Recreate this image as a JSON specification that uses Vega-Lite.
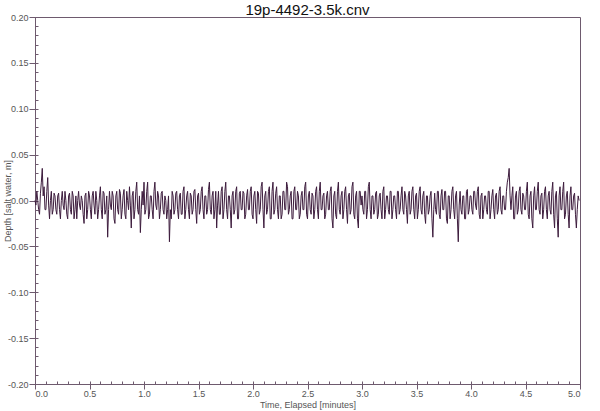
{
  "$schema": "https://vega.github.io/schema/vega-lite/v6.json",
  "autosize": "none",
  "width": 545,
  "height": 367,
  "padding": {"left": 35, "top": 17, "right": 20, "bottom": 27},
  "background": "white",
  "title": {
    "text": "19p-4492-3.5k.cnv",
    "font": "Liberation Sans",
    "fontSize": 15,
    "fontWeight": "normal",
    "color": "#111111",
    "offset": 2,
    "dy": 7
  },
  "config": {
    "view": {"stroke": "#6e5a6e", "strokeWidth": 1},
    "axis": {
      "domain": false,
      "grid": false,
      "labelFont": "Liberation Sans",
      "labelFontSize": 9,
      "labelColor": "#555555",
      "titleFont": "Liberation Sans",
      "titleFontSize": 9,
      "titleFontWeight": "normal",
      "titleColor": "#555555",
      "tickColor": "#6e5a6e",
      "offset": -3,
      "labelOverlap": false
    }
  },
  "data": {
    "values": [
      {"t":0,"d":0},{"t":0.0083,"d":-0.005},{"t":0.0167,"d":0.01},{"t":0.025,"d":0},{"t":0.0333,"d":-0.01},{"t":0.0417,"d":-0.015},{"t":0.05,"d":0.008},{"t":0.0583,"d":0.02},{"t":0.0667,"d":0.035},{"t":0.075,"d":0.005},{"t":0.0833,"d":0.015},{"t":0.0917,"d":-0.01},
      {"t":0.1,"d":-0.01},{"t":0.1083,"d":0.01},{"t":0.1167,"d":0.025},{"t":0.125,"d":-0.005},{"t":0.1333,"d":-0.02},{"t":0.1417,"d":0},{"t":0.15,"d":0.01},{"t":0.1583,"d":-0.015},{"t":0.1667,"d":-0.01},{"t":0.175,"d":0.008},{"t":0.1833,"d":0.005},{"t":0.1917,"d":-0.01},
      {"t":0.2,"d":-0.015},{"t":0.2083,"d":0.005},{"t":0.2167,"d":0.008},{"t":0.225,"d":-0.01},{"t":0.2333,"d":-0.02},{"t":0.2417,"d":0},{"t":0.25,"d":0.01},{"t":0.2583,"d":-0.005},{"t":0.2667,"d":-0.01},{"t":0.275,"d":0.01},{"t":0.2833,"d":0},{"t":0.2917,"d":-0.015},
      {"t":0.3,"d":-0.02},{"t":0.3083,"d":0.005},{"t":0.3167,"d":0.008},{"t":0.325,"d":-0.01},{"t":0.3333,"d":-0.015},{"t":0.3417,"d":0.01},{"t":0.35,"d":0.005},{"t":0.3583,"d":-0.02},{"t":0.3667,"d":-0.01},{"t":0.375,"d":0.005},{"t":0.3833,"d":-0.02},{"t":0.3917,"d":0},
      {"t":0.4,"d":0.01},{"t":0.4083,"d":-0.005},{"t":0.4167,"d":-0.01},{"t":0.425,"d":0.005},{"t":0.4333,"d":0},{"t":0.4417,"d":-0.015},{"t":0.45,"d":-0.025},{"t":0.4583,"d":0.005},{"t":0.4667,"d":0.008},{"t":0.475,"d":-0.02},{"t":0.4833,"d":-0.01},{"t":0.4917,"d":0.01},
      {"t":0.5,"d":0.005},{"t":0.5083,"d":-0.01},{"t":0.5167,"d":-0.02},{"t":0.525,"d":0.005},{"t":0.5333,"d":0.01},{"t":0.5417,"d":-0.005},{"t":0.55,"d":-0.015},{"t":0.5583,"d":0.01},{"t":0.5667,"d":0},{"t":0.575,"d":-0.02},{"t":0.5833,"d":-0.01},{"t":0.5917,"d":0.005},
      {"t":0.6,"d":0.015},{"t":0.6083,"d":-0.01},{"t":0.6167,"d":-0.02},{"t":0.625,"d":0.01},{"t":0.6333,"d":0.008},{"t":0.6417,"d":-0.015},{"t":0.65,"d":-0.01},{"t":0.6583,"d":0.005},{"t":0.6667,"d":-0.04},{"t":0.675,"d":-0.01},{"t":0.6833,"d":0.01},{"t":0.6917,"d":-0.005},
      {"t":0.7,"d":-0.01},{"t":0.7083,"d":0.01},{"t":0.7167,"d":0.005},{"t":0.725,"d":-0.02},{"t":0.7333,"d":-0.025},{"t":0.7417,"d":0.005},{"t":0.75,"d":0.01},{"t":0.7583,"d":-0.01},{"t":0.7667,"d":-0.015},{"t":0.775,"d":0.012},{"t":0.7833,"d":0.008},{"t":0.7917,"d":-0.02},
      {"t":0.8,"d":-0.01},{"t":0.8083,"d":0.005},{"t":0.8167,"d":0.012},{"t":0.825,"d":-0.015},{"t":0.8333,"d":-0.02},{"t":0.8417,"d":0.01},{"t":0.85,"d":0},{"t":0.8583,"d":-0.01},{"t":0.8667,"d":0.015},{"t":0.875,"d":-0.005},{"t":0.8833,"d":-0.03},{"t":0.8917,"d":0.005},
      {"t":0.9,"d":0.01},{"t":0.9083,"d":-0.02},{"t":0.9167,"d":-0.01},{"t":0.925,"d":0.01},{"t":0.9333,"d":0.02},{"t":0.9417,"d":-0.01},{"t":0.95,"d":-0.015},{"t":0.9583,"d":0.005},{"t":0.9667,"d":-0.035},{"t":0.975,"d":-0.01},{"t":0.9833,"d":0.01},{"t":0.9917,"d":-0.005},
      {"t":1,"d":0.02},{"t":1.0083,"d":-0.015},{"t":1.0167,"d":-0.01},{"t":1.025,"d":0.01},{"t":1.0333,"d":0.02},{"t":1.0417,"d":-0.02},{"t":1.05,"d":-0.015},{"t":1.0583,"d":0.005},{"t":1.0667,"d":0.005},{"t":1.075,"d":-0.01},{"t":1.0833,"d":-0.02},{"t":1.0917,"d":0.01},
      {"t":1.1,"d":0.02},{"t":1.1083,"d":-0.005},{"t":1.1167,"d":-0.01},{"t":1.125,"d":0.01},{"t":1.1333,"d":0.005},{"t":1.1417,"d":-0.02},{"t":1.15,"d":-0.01},{"t":1.1583,"d":0.008},{"t":1.1667,"d":0.01},{"t":1.175,"d":-0.01},{"t":1.1833,"d":-0.015},{"t":1.1917,"d":0.005},
      {"t":1.2,"d":0},{"t":1.2083,"d":-0.02},{"t":1.2167,"d":-0.01},{"t":1.225,"d":0.005},{"t":1.2333,"d":-0.045},{"t":1.2417,"d":-0.01},{"t":1.25,"d":-0.02},{"t":1.2583,"d":0.01},{"t":1.2667,"d":0.005},{"t":1.275,"d":-0.015},{"t":1.2833,"d":-0.01},{"t":1.2917,"d":0.008},
      {"t":1.3,"d":0.01},{"t":1.3083,"d":-0.01},{"t":1.3167,"d":-0.02},{"t":1.325,"d":0.005},{"t":1.3333,"d":0.008},{"t":1.3417,"d":-0.015},{"t":1.35,"d":-0.015},{"t":1.3583,"d":0.01},{"t":1.3667,"d":0.015},{"t":1.375,"d":-0.02},{"t":1.3833,"d":-0.01},{"t":1.3917,"d":0.005},
      {"t":1.4,"d":0.01},{"t":1.4083,"d":-0.01},{"t":1.4167,"d":-0.02},{"t":1.425,"d":0.008},{"t":1.4333,"d":0.005},{"t":1.4417,"d":-0.015},{"t":1.45,"d":-0.01},{"t":1.4583,"d":0.01},{"t":1.4667,"d":0.012},{"t":1.475,"d":-0.01},{"t":1.4833,"d":-0.025},{"t":1.4917,"d":0.005},
      {"t":1.5,"d":0.008},{"t":1.5083,"d":-0.015},{"t":1.5167,"d":-0.01},{"t":1.525,"d":0.01},{"t":1.5333,"d":0.015},{"t":1.5417,"d":-0.01},{"t":1.55,"d":-0.02},{"t":1.5583,"d":0.005},{"t":1.5667,"d":0.005},{"t":1.575,"d":-0.015},{"t":1.5833,"d":-0.01},{"t":1.5917,"d":0.012},
      {"t":1.6,"d":0.02},{"t":1.6083,"d":-0.01},{"t":1.6167,"d":-0.015},{"t":1.625,"d":0.005},{"t":1.6333,"d":0.01},{"t":1.6417,"d":-0.02},{"t":1.65,"d":-0.01},{"t":1.6583,"d":0.01},{"t":1.6667,"d":-0.03},{"t":1.675,"d":-0.005},{"t":1.6833,"d":0.01},{"t":1.6917,"d":-0.015},
      {"t":1.7,"d":-0.015},{"t":1.7083,"d":0.01},{"t":1.7167,"d":0.015},{"t":1.725,"d":-0.02},{"t":1.7333,"d":-0.01},{"t":1.7417,"d":0.01},{"t":1.75,"d":0.02},{"t":1.7583,"d":-0.01},{"t":1.7667,"d":-0.02},{"t":1.775,"d":0.005},{"t":1.7833,"d":0.005},{"t":1.7917,"d":-0.01},
      {"t":1.8,"d":-0.03},{"t":1.8083,"d":0.005},{"t":1.8167,"d":0.01},{"t":1.825,"d":-0.015},{"t":1.8333,"d":-0.01},{"t":1.8417,"d":0.01},{"t":1.85,"d":0.015},{"t":1.8583,"d":-0.02},{"t":1.8667,"d":-0.02},{"t":1.875,"d":0.008},{"t":1.8833,"d":0.01},{"t":1.8917,"d":-0.01},
      {"t":1.9,"d":-0.01},{"t":1.9083,"d":0.01},{"t":1.9167,"d":0.008},{"t":1.925,"d":-0.02},{"t":1.9333,"d":-0.015},{"t":1.9417,"d":0.005},{"t":1.95,"d":0.012},{"t":1.9583,"d":-0.01},{"t":1.9667,"d":-0.01},{"t":1.975,"d":0.01},{"t":1.9833,"d":0.015},{"t":1.9917,"d":-0.015},
      {"t":2,"d":-0.02},{"t":2.0083,"d":0.005},{"t":2.0167,"d":0.01},{"t":2.025,"d":-0.01},{"t":2.0333,"d":-0.025},{"t":2.0417,"d":0.01},{"t":2.05,"d":0.008},{"t":2.0583,"d":-0.015},{"t":2.0667,"d":-0.01},{"t":2.075,"d":0.015},{"t":2.0833,"d":0.02},{"t":2.0917,"d":-0.01},
      {"t":2.1,"d":-0.03},{"t":2.1083,"d":0.005},{"t":2.1167,"d":0.01},{"t":2.125,"d":-0.015},{"t":2.1333,"d":-0.01},{"t":2.1417,"d":0.01},{"t":2.15,"d":0.015},{"t":2.1583,"d":-0.02},{"t":2.1667,"d":-0.02},{"t":2.175,"d":0.01},{"t":2.1833,"d":0.02},{"t":2.1917,"d":-0.015},
      {"t":2.2,"d":-0.01},{"t":2.2083,"d":0.008},{"t":2.2167,"d":0.015},{"t":2.225,"d":-0.01},{"t":2.2333,"d":-0.02},{"t":2.2417,"d":0.005},{"t":2.25,"d":0.005},{"t":2.2583,"d":-0.02},{"t":2.2667,"d":-0.015},{"t":2.275,"d":0.01},{"t":2.2833,"d":0.01},{"t":2.2917,"d":-0.01},
      {"t":2.3,"d":-0.01},{"t":2.3083,"d":0.02},{"t":2.3167,"d":0.015},{"t":2.325,"d":-0.015},{"t":2.3333,"d":-0.01},{"t":2.3417,"d":0.005},{"t":2.35,"d":0.01},{"t":2.3583,"d":-0.02},{"t":2.3667,"d":-0.02},{"t":2.375,"d":0.01},{"t":2.3833,"d":0.015},{"t":2.3917,"d":-0.01},
      {"t":2.4,"d":-0.01},{"t":2.4083,"d":0.01},{"t":2.4167,"d":0.005},{"t":2.425,"d":-0.02},{"t":2.4333,"d":-0.015},{"t":2.4417,"d":0.005},{"t":2.45,"d":0.01},{"t":2.4583,"d":-0.01},{"t":2.4667,"d":-0.01},{"t":2.475,"d":0.015},{"t":2.4833,"d":0.02},{"t":2.4917,"d":-0.015},
      {"t":2.5,"d":-0.02},{"t":2.5083,"d":0.005},{"t":2.5167,"d":0.01},{"t":2.525,"d":-0.01},{"t":2.5333,"d":-0.015},{"t":2.5417,"d":0.008},{"t":2.55,"d":0.005},{"t":2.5583,"d":-0.02},{"t":2.5667,"d":-0.01},{"t":2.575,"d":0.01},{"t":2.5833,"d":0.015},{"t":2.5917,"d":-0.01},
      {"t":2.6,"d":-0.02},{"t":2.6083,"d":0.01},{"t":2.6167,"d":0.02},{"t":2.625,"d":-0.01},{"t":2.6333,"d":-0.01},{"t":2.6417,"d":0.005},{"t":2.65,"d":0.008},{"t":2.6583,"d":-0.02},{"t":2.6667,"d":-0.015},{"t":2.675,"d":0.005},{"t":2.6833,"d":0.01},{"t":2.6917,"d":-0.01},
      {"t":2.7,"d":-0.01},{"t":2.7083,"d":0.01},{"t":2.7167,"d":0.015},{"t":2.725,"d":-0.02},{"t":2.7333,"d":-0.03},{"t":2.7417,"d":0.005},{"t":2.75,"d":0.01},{"t":2.7583,"d":-0.015},{"t":2.7667,"d":-0.02},{"t":2.775,"d":0.01},{"t":2.7833,"d":0.02},{"t":2.7917,"d":-0.01},
      {"t":2.8,"d":-0.015},{"t":2.8083,"d":0.005},{"t":2.8167,"d":0.01},{"t":2.825,"d":-0.02},{"t":2.8333,"d":-0.01},{"t":2.8417,"d":0.01},{"t":2.85,"d":0.015},{"t":2.8583,"d":-0.01},{"t":2.8667,"d":-0.025},{"t":2.875,"d":0.005},{"t":2.8833,"d":0.008},{"t":2.8917,"d":-0.015},
      {"t":2.9,"d":-0.01},{"t":2.9083,"d":0.015},{"t":2.9167,"d":0.02},{"t":2.925,"d":-0.015},{"t":2.9333,"d":-0.02},{"t":2.9417,"d":0.005},{"t":2.95,"d":0.01},{"t":2.9583,"d":-0.02},{"t":2.9667,"d":-0.03},{"t":2.975,"d":0.01},{"t":2.9833,"d":0.01},{"t":2.9917,"d":-0.005},
      {"t":3,"d":0.005},{"t":3.0083,"d":-0.01},{"t":3.0167,"d":-0.015},{"t":3.025,"d":0.01},{"t":3.0333,"d":0.01},{"t":3.0417,"d":-0.02},{"t":3.05,"d":-0.01},{"t":3.0583,"d":0.015},{"t":3.0667,"d":0.02},{"t":3.075,"d":-0.01},{"t":3.0833,"d":-0.02},{"t":3.0917,"d":0.005},
      {"t":3.1,"d":0.005},{"t":3.1083,"d":-0.015},{"t":3.1167,"d":-0.01},{"t":3.125,"d":0.008},{"t":3.1333,"d":0.01},{"t":3.1417,"d":-0.02},{"t":3.15,"d":-0.015},{"t":3.1583,"d":0.005},{"t":3.1667,"d":0.008},{"t":3.175,"d":-0.01},{"t":3.1833,"d":-0.02},{"t":3.1917,"d":0.01},
      {"t":3.2,"d":0.015},{"t":3.2083,"d":-0.02},{"t":3.2167,"d":-0.01},{"t":3.225,"d":0.005},{"t":3.2333,"d":0.005},{"t":3.2417,"d":-0.01},{"t":3.25,"d":-0.015},{"t":3.2583,"d":0.01},{"t":3.2667,"d":0.01},{"t":3.275,"d":-0.02},{"t":3.2833,"d":-0.01},{"t":3.2917,"d":0.005},
      {"t":3.3,"d":0.005},{"t":3.3083,"d":-0.01},{"t":3.3167,"d":-0.02},{"t":3.325,"d":0.01},{"t":3.3333,"d":0.01},{"t":3.3417,"d":-0.015},{"t":3.35,"d":-0.01},{"t":3.3583,"d":0.005},{"t":3.3667,"d":0.015},{"t":3.375,"d":-0.01},{"t":3.3833,"d":-0.015},{"t":3.3917,"d":0.01},
      {"t":3.4,"d":0.005},{"t":3.4083,"d":-0.01},{"t":3.4167,"d":-0.025},{"t":3.425,"d":0.005},{"t":3.4333,"d":0.01},{"t":3.4417,"d":-0.015},{"t":3.45,"d":-0.01},{"t":3.4583,"d":0.01},{"t":3.4667,"d":0.015},{"t":3.475,"d":-0.01},{"t":3.4833,"d":-0.02},{"t":3.4917,"d":0.005},
      {"t":3.5,"d":0.008},{"t":3.5083,"d":-0.02},{"t":3.5167,"d":-0.01},{"t":3.525,"d":0.01},{"t":3.5333,"d":0.015},{"t":3.5417,"d":-0.01},{"t":3.55,"d":-0.015},{"t":3.5583,"d":0.005},{"t":3.5667,"d":0.01},{"t":3.575,"d":-0.015},{"t":3.5833,"d":-0.025},{"t":3.5917,"d":0.005},
      {"t":3.6,"d":0.005},{"t":3.6083,"d":-0.015},{"t":3.6167,"d":-0.01},{"t":3.625,"d":0.005},{"t":3.6333,"d":0.01},{"t":3.6417,"d":-0.02},{"t":3.65,"d":-0.04},{"t":3.6583,"d":-0.01},{"t":3.6667,"d":0.008},{"t":3.675,"d":-0.01},{"t":3.6833,"d":-0.015},{"t":3.6917,"d":0.01},
      {"t":3.7,"d":0.01},{"t":3.7083,"d":-0.015},{"t":3.7167,"d":-0.02},{"t":3.725,"d":0.005},{"t":3.7333,"d":0.012},{"t":3.7417,"d":-0.01},{"t":3.75,"d":-0.01},{"t":3.7583,"d":0.01},{"t":3.7667,"d":0.01},{"t":3.775,"d":-0.02},{"t":3.7833,"d":-0.025},{"t":3.7917,"d":0.005},
      {"t":3.8,"d":0.005},{"t":3.8083,"d":-0.02},{"t":3.8167,"d":-0.01},{"t":3.825,"d":0.01},{"t":3.8333,"d":0.015},{"t":3.8417,"d":-0.01},{"t":3.85,"d":-0.02},{"t":3.8583,"d":0.005},{"t":3.8667,"d":0.01},{"t":3.875,"d":-0.02},{"t":3.8833,"d":-0.045},{"t":3.8917,"d":-0.005},
      {"t":3.9,"d":0.01},{"t":3.9083,"d":-0.01},{"t":3.9167,"d":-0.015},{"t":3.925,"d":0.005},{"t":3.9333,"d":0.005},{"t":3.9417,"d":-0.02},{"t":3.95,"d":-0.02},{"t":3.9583,"d":0.01},{"t":3.9667,"d":0.012},{"t":3.975,"d":-0.015},{"t":3.9833,"d":-0.01},{"t":3.9917,"d":0.005},
      {"t":4,"d":0.005},{"t":4.0083,"d":-0.01},{"t":4.0167,"d":-0.015},{"t":4.025,"d":0.01},{"t":4.0333,"d":0.01},{"t":4.0417,"d":-0.005},{"t":4.05,"d":-0.01},{"t":4.0583,"d":0.01},{"t":4.0667,"d":0.015},{"t":4.075,"d":-0.015},{"t":4.0833,"d":-0.02},{"t":4.0917,"d":0.005},
      {"t":4.1,"d":0.008},{"t":4.1083,"d":-0.02},{"t":4.1167,"d":-0.01},{"t":4.125,"d":0.005},{"t":4.1333,"d":0.005},{"t":4.1417,"d":-0.01},{"t":4.15,"d":-0.015},{"t":4.1583,"d":0.01},{"t":4.1667,"d":0.01},{"t":4.175,"d":-0.02},{"t":4.1833,"d":-0.01},{"t":4.1917,"d":0.005},
      {"t":4.2,"d":0.012},{"t":4.2083,"d":-0.01},{"t":4.2167,"d":-0.02},{"t":4.225,"d":0.005},{"t":4.2333,"d":0.008},{"t":4.2417,"d":-0.015},{"t":4.25,"d":-0.01},{"t":4.2583,"d":0.01},{"t":4.2667,"d":0.015},{"t":4.275,"d":-0.01},{"t":4.2833,"d":-0.015},{"t":4.2917,"d":0.005},
      {"t":4.3,"d":0.005},{"t":4.3083,"d":-0.01},{"t":4.3167,"d":-0.01},{"t":4.325,"d":0.01},{"t":4.3333,"d":0.02},{"t":4.3417,"d":0.025},{"t":4.35,"d":0.035},{"t":4.3583,"d":0.005},{"t":4.3667,"d":-0.01},{"t":4.375,"d":0.005},{"t":4.3833,"d":0.015},{"t":4.3917,"d":-0.02},
      {"t":4.4,"d":-0.02},{"t":4.4083,"d":0.005},{"t":4.4167,"d":0.01},{"t":4.425,"d":-0.015},{"t":4.4333,"d":-0.01},{"t":4.4417,"d":0.01},{"t":4.45,"d":0.015},{"t":4.4583,"d":-0.01},{"t":4.4667,"d":-0.015},{"t":4.475,"d":0.008},{"t":4.4833,"d":0.005},{"t":4.4917,"d":-0.01},
      {"t":4.5,"d":-0.01},{"t":4.5083,"d":0.01},{"t":4.5167,"d":0.02},{"t":4.525,"d":-0.015},{"t":4.5333,"d":-0.02},{"t":4.5417,"d":0.005},{"t":4.55,"d":0.01},{"t":4.5583,"d":-0.02},{"t":4.5667,"d":-0.03},{"t":4.575,"d":0.005},{"t":4.5833,"d":0.015},{"t":4.5917,"d":-0.01},
      {"t":4.6,"d":-0.01},{"t":4.6083,"d":0.01},{"t":4.6167,"d":0.02},{"t":4.625,"d":-0.01},{"t":4.6333,"d":-0.015},{"t":4.6417,"d":0.005},{"t":4.65,"d":0.008},{"t":4.6583,"d":-0.02},{"t":4.6667,"d":-0.01},{"t":4.675,"d":0.01},{"t":4.6833,"d":0.015},{"t":4.6917,"d":-0.01},
      {"t":4.7,"d":-0.02},{"t":4.7083,"d":0.005},{"t":4.7167,"d":0.01},{"t":4.725,"d":-0.01},{"t":4.7333,"d":-0.015},{"t":4.7417,"d":0.01},{"t":4.75,"d":0.02},{"t":4.7583,"d":-0.015},{"t":4.7667,"d":-0.03},{"t":4.775,"d":0.005},{"t":4.7833,"d":0.01},{"t":4.7917,"d":-0.02},
      {"t":4.8,"d":-0.04},{"t":4.8083,"d":0.005},{"t":4.8167,"d":0.015},{"t":4.825,"d":-0.01},{"t":4.8333,"d":-0.01},{"t":4.8417,"d":0.01},{"t":4.85,"d":0.02},{"t":4.8583,"d":-0.02},{"t":4.8667,"d":-0.015},{"t":4.875,"d":0.005},{"t":4.8833,"d":0.01},{"t":4.8917,"d":-0.015},
      {"t":4.9,"d":-0.03},{"t":4.9083,"d":0.005},{"t":4.9167,"d":0.015},{"t":4.925,"d":-0.01},{"t":4.9333,"d":-0.01},{"t":4.9417,"d":0.005},{"t":4.95,"d":0.008},{"t":4.9583,"d":-0.015},{"t":4.9667,"d":-0.03},{"t":4.975,"d":-0.01},{"t":4.9833,"d":0.005},{"t":4.9917,"d":0}
    ]
  },
  "mark": {"type": "line", "color": "#3d1c3d", "strokeWidth": 1, "interpolate": "linear"},
  "encoding": {
    "x": {
      "field": "t",
      "type": "quantitative",
      "title": "Time, Elapsed [minutes]",
      "scale": {"domain": [0, 5], "nice": false, "zero": false},
      "axis": {
        "values": [0, 0.1, 0.2, 0.3, 0.4, 0.5, 0.6, 0.7, 0.8, 0.9, 1, 1.1, 1.2, 1.3, 1.4, 1.5, 1.6, 1.7, 1.8, 1.9, 2, 2.1, 2.2, 2.3, 2.4, 2.5, 2.6, 2.7, 2.8, 2.9, 3, 3.1, 3.2, 3.3, 3.4, 3.5, 3.6, 3.7, 3.8, 3.9, 4, 4.1, 4.2, 4.3, 4.4, 4.5, 4.6, 4.7, 4.8, 4.9, 5],
        "labelExpr": "round(datum.value * 10) % 5 == 0 ? format(datum.value, '.1f') : ''",
        "tickSize": {"condition": {"test": "round(datum.value * 10) % 5 == 0", "value": 8}, "value": 3},
        "labelPadding": 0,
        "titlePadding": 2
      }
    },
    "y": {
      "field": "d",
      "type": "quantitative",
      "title": "Depth [salt water, m]",
      "scale": {"domain": [-0.2, 0.2], "nice": false, "zero": false},
      "axis": {
        "values": [-0.2, -0.19, -0.18, -0.17, -0.16, -0.15, -0.14, -0.13, -0.12, -0.11, -0.1, -0.09, -0.08, -0.07, -0.06, -0.05, -0.04, -0.03, -0.02, -0.01, 0, 0.01, 0.02, 0.03, 0.04, 0.05, 0.06, 0.07, 0.08, 0.09, 0.1, 0.11, 0.12, 0.13, 0.14, 0.15, 0.16, 0.17, 0.18, 0.19, 0.2],
        "labelExpr": "abs(round(datum.value * 100)) % 5 == 0 ? (datum.value < -0.001 ? '-' : '') + format(abs(datum.value), '.2f') : ''",
        "tickSize": {"condition": {"test": "abs(round(datum.value * 100)) % 5 == 0", "value": 9}, "value": 3},
        "labelPadding": 1,
        "titleX": -28,
        "titleBaseline": "alphabetic"
      }
    }
  }
}
